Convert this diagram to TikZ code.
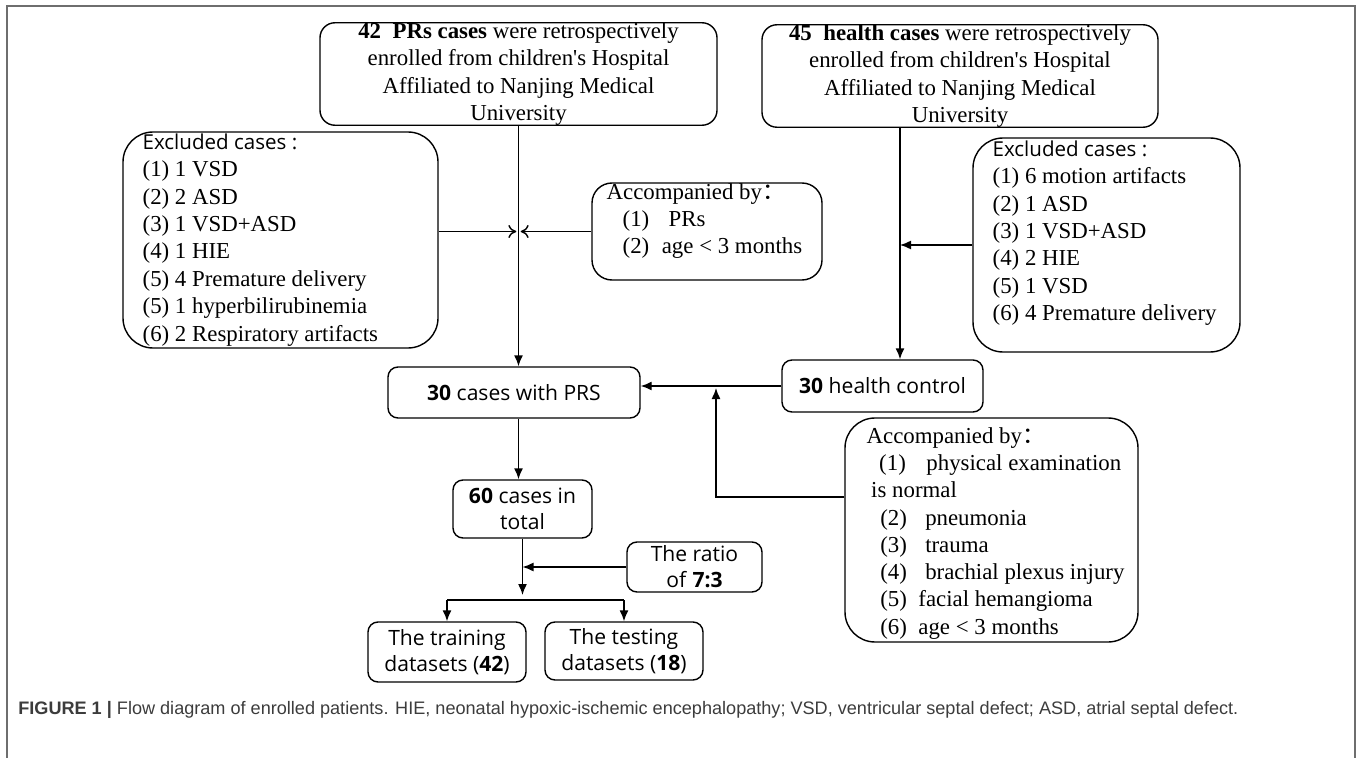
\documentclass[tikz,border=0pt]{standalone}
\usepackage{fontspec}
\setmainfont{Liberation Serif}
\setsansfont{Open Sans}
\newfontfamily\capfont{Liberation Sans}
\newfontfamily\cjk{Noto Sans CJK SC}
\usetikzlibrary{arrows.meta}
\definecolor{framegray}{HTML}{6E6E6E}
\definecolor{capgray}{HTML}{3C3C3C}

\begin{document}
\begin{tikzpicture}[
  roundbox/.style={draw, line width=0.8pt, rounded corners=#1, inner sep=0pt},
  roundbox/.default=2mm,
  serif/.style={font=\fontsize{13}{15.5}\selectfont},
  sans/.style={font=\sffamily\fontsize{12}{14.7}\selectfont},
  list/.style={serif, anchor=north west, inner sep=0pt, align=left},
  arr/.style={line width=0.8pt, -{Latex[length=2.2mm,width=1.8mm]}},
  oarr/.style={line width=0.8pt, -{To[length=1.6mm,width=2.6mm]}, shorten >=1.2pt}
]
\useasboundingbox (0,0) rectangle (27.16,-15.16);
\draw[framegray, line width=1.1pt] (0.14,-15.16) -- (0.14,-0.12) -- (27.10,-0.12) -- (27.10,-15.16);

\node[roundbox=3mm, serif, align=center, minimum width=7.94cm, minimum height=1.96cm] (prs) at (10.37,-1.48)
  {\textbf{42\ \ PRs cases} were retrospectively\\enrolled from children\textquotesingle s Hospital\\Affiliated to Nanjing Medical\\University};
\node[roundbox=3mm, serif, align=center, minimum width=7.92cm, minimum height=2.04cm] (health) at (19.20,-1.52)
  {\textbf{45\ \ health cases} were retrospectively\\enrolled from children\textquotesingle s Hospital\\Affiliated to Nanjing Medical\\University};

\node[roundbox=6mm, minimum width=6.30cm, minimum height=4.32cm] (exclA) at (5.61,-4.80) {};
\node[list, font=\fontsize{13}{15.6}\selectfont] (exclAtxt) at ([shift={(0.4,-0.04)}]exclA.north west)
  {{\sffamily\fontsize{11.7}{15.6}\selectfont Excluded cases :}\\(1) 1 VSD\\(2) 2 ASD\\(3) 1 VSD+ASD\\(4) 1 HIE\\(5) 4 Premature delivery\\(5) 1 hyperbilirubinemia\\(6) 2 Respiratory artifacts};

\node[roundbox=4mm, minimum width=4.60cm, minimum height=1.94cm] (accA) at (14.14,-4.63) {};
\node[list] (accAtxt) at ([shift={(0.3,-0.02)}]accA.north west)
  {Accompanied by{\cjk ：}\\\hspace{0.7em}(1)\hspace{0.85em}PRs\\\hspace{0.7em}(2)\hspace{0.55em}age < 3 months};

\node[roundbox=6mm, minimum width=5.34cm, minimum height=4.28cm] (exclB) at (22.13,-4.90) {};
\node[list, font=\fontsize{13}{15.6}\selectfont] (exclBtxt) at ([shift={(0.4,-0.06)}]exclB.north west)
  {{\sffamily\fontsize{11.7}{15.6}\selectfont Excluded cases :}\\(1) 6 motion artifacts\\(2) 1 ASD\\(3) 1 VSD+ASD\\(4) 2 HIE\\(5) 1 VSD\\(6) 4 Premature delivery};

\node[roundbox, sans, minimum width=5.04cm, minimum height=1.02cm] (cases) at (10.28,-7.85) {\textbf{30} cases with PRS};
\node[roundbox, sans, minimum width=4.02cm, minimum height=1.04cm] (ctrl) at (17.65,-7.72) {\textbf{30} health control};

\node[roundbox=6mm, minimum width=5.86cm, minimum height=4.48cm] (accB) at (19.83,-10.60) {};
\node[list] (accBtxt) at ([shift={(0.44,-0.2)}]accB.north west)
  {Accompanied by{\cjk ：}\\\hspace{0.55em}(1)\hspace{0.9em}physical examination\\\hspace{0.2em}is normal\\\hspace{0.6em}(2)\hspace{0.8em}pneumonia\\\hspace{0.6em}(3)\hspace{0.8em}trauma\\\hspace{0.6em}(4)\hspace{0.8em}brachial plexus injury\\\hspace{0.6em}(5)\hspace{0.5em}facial hemangioma\\\hspace{0.6em}(6)\hspace{0.5em}age < 3 months};

\node[roundbox, sans, align=center, minimum width=2.78cm, minimum height=1.16cm] (total) at (10.45,-10.18) {\textbf{60} cases in\\total};
\node[roundbox, sans, align=center, minimum width=2.70cm, minimum height=1.00cm] (ratio) at (13.89,-11.34) {The ratio\\of \textbf{7:3}};
\node[roundbox, sans, align=center, minimum width=3.16cm, minimum height=1.20cm] (train) at (8.94,-13.04) {The training\\datasets (\textbf{42})};
\node[roundbox, sans, align=center, minimum width=3.16cm, minimum height=1.16cm] (test) at (12.48,-13.02) {The testing\\datasets (\textbf{18})};

\coordinate (join) at (prs.south |- accA.west);
\coordinate (hdrop) at ([xshift=-1.2cm]health.south);
\coordinate (upend) at (14.32,-7.76);
\coordinate (split) at (total.south |- 0,-12.0);

\draw[arr] (prs.south) -- (prs.south |- cases.north);
\draw[oarr] (exclA.east |- join) -- (join);
\draw[oarr] (accA.west) -- (join);
\draw[arr] (hdrop) -- (hdrop |- ctrl.north);
\draw[arr] (exclB.west) -- (exclB.west -| hdrop);
\draw[arr] (ctrl.west) -- (ctrl.west -| cases.east);
\draw[arr] ([yshift=6.6mm]accB.west) -| (upend);
\draw[arr] (prs.south |- cases.south) -- (prs.south |- total.north);
\draw[arr] (total.south) -- ([yshift=1mm]split);
\draw[arr] (ratio.west) -- (ratio.west -| total.south);
\draw[line width=0.8pt] (train.north |- split) -- (test.north |- split);
\draw[arr] (train.north |- split) -- (train.north);
\draw[arr] (test.north |- split) -- (test.north);

\node[anchor=base west, inner sep=0pt, text=capgray, font=\capfont\fontsize{10.3}{12}\selectfont] (cap) at (0.36,-14.28)
  {\textbf{FIGURE 1 |} Flow diagram of enrolled patients. HIE, neonatal hypoxic-ischemic encephalopathy; VSD, ventricular septal defect; ASD, atrial septal defect.};
\end{tikzpicture}
\end{document}
